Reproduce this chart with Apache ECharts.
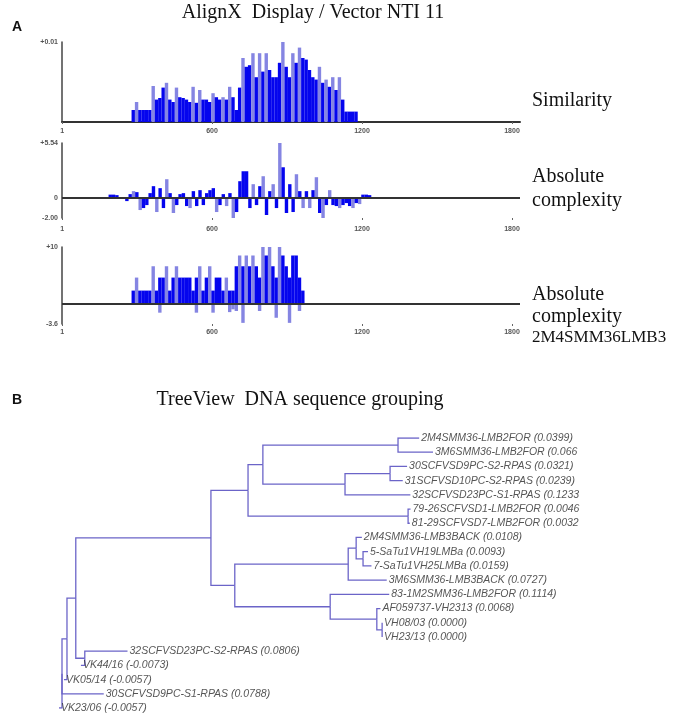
<!DOCTYPE html>
<html><head><meta charset="utf-8">
<script src="https://cdn.jsdelivr.net/npm/echarts@6/dist/echarts.min.js"></script>
<style>html,body{margin:0;padding:0;background:#fff}#c{width:673px;height:720px}</style>
</head><body><div id="c"></div>
<script>
// ---------- Panel A data ----------
const positionTicks = [1, 600, 1200, 1800];
const positionTickLabels = ['1', '600', '1200', '1800'];
const binStep = 13.3;

const similarityStart = 285;
const similarityValues = [0.0015, 0.0025, 0.0015, 0.0015, 0.0015, 0.0015, 0.0045, 0.0028, 0.003, 0.0043, 0.0049, 0.0028, 0.0025, 0.0043, 0.0031, 0.003, 0.0028, 0.0025, 0.0044, 0.0024, 0.004, 0.0028, 0.0028, 0.0025, 0.0036, 0.0031, 0.0028, 0.0031, 0.0028, 0.0044, 0.0031, 0.0015, 0.0043, 0.008, 0.0069, 0.0071, 0.0086, 0.0056, 0.0086, 0.0063, 0.0086, 0.0065, 0.0056, 0.0056, 0.0074, 0.01, 0.0069, 0.0056, 0.0086, 0.0074, 0.0093, 0.008, 0.0078, 0.0065, 0.0056, 0.0053, 0.0069, 0.0049, 0.0053, 0.0044, 0.0056, 0.004, 0.0056, 0.0028, 0.0013, 0.0013, 0.0013, 0.0013];
const similarityYTicks = [0.01];
const similarityYLabels = ['+0.01'];

const complexityStart = 193;
const complexityValues = [0.35, 0.35, 0.3, 0, 0, -0.3, 0.4, 0.7, 0.6, -1.2, -1.0, -0.7, 0.5, 1.2, -1.4, 1.0, -1.0, 1.9, 0.5, -1.5, -0.7, 0.4, 0.5, -0.8, -1.0, 0.7, -0.8, 0.8, -0.7, 0.5, 0.8, 1.0, -1.4, -0.7, 0.4, -0.8, 0.5, -2.0, -1.4, 1.7, 2.7, 2.7, -1.0, 1.4, -0.7, 1.2, 2.2, -1.7, 0.7, 1.4, -1.0, 5.54, 3.1, -1.5, 1.4, -1.4, 2.4, 0.7, -1.0, 0.7, -1.0, 0.8, 2.1, -1.5, -2.0, -0.7, 0.8, -0.7, -0.8, -1.0, -0.7, -0.5, -0.8, -1.0, -0.5, -0.6, 0.35, 0.35, 0.3];
const complexityYTicks = [5.54, 0, -2];
const complexityYLabels = ['+5.54', '0', '-2.00'];

const seqComplexityStart = 285;
const seqComplexityUp = [2.3, 4.6, 2.3, 2.3, 2.3, 2.3, 6.6, 2.3, 4.6, 4.6, 6.6, 2.3, 4.6, 6.6, 4.6, 4.6, 4.6, 4.6, 2.3, 4.6, 6.6, 2.3, 4.6, 6.6, 2.3, 4.6, 4.6, 2.3, 4.6, 2.3, 2.3, 6.6, 8.5, 6.6, 8.5, 6.6, 8.5, 6.6, 4.6, 10, 8.5, 10, 6.6, 4.6, 10, 8.5, 6.6, 4.6, 8.5, 8.5, 4.6, 2.3];
const seqComplexityDown = [0, 0, 0, 0, 0, 0, 0, 0, -1.6, 0, 0, 0, 0, 0, 0, 0, 0, 0, 0, -1.6, 0, 0, 0, 0, -1.6, 0, 0, 0, 0, -1.5, -1.0, -1.3, 0, -3.4, 0, 0, 0, 0, -1.3, 0, 0, 0, 0, -2.5, 0, 0, 0, -3.4, 0, 0, -1.3, 0];
const seqYTicks = [10, -3.6];
const seqYLabels = ['+10', '-3.6'];

// ---------- Panel B data (TreeView) ----------
const leafNames = ['2M4SMM36-LMB2FOR (0.0399)', '3M6SMM36-LMB2FOR (0.066', '30SCFVSD9PC-S2-RPAS (0.0321)', '31SCFVSD10PC-S2-RPAS (0.0239)', '32SCFVSD23PC-S1-RPAS (0.1233', '79-26SCFVSD1-LMB2FOR (0.0046', '81-29SCFVSD7-LMB2FOR (0.0032', '2M4SMM36-LMB3BACK (0.0108)', '5-SaTu1VH19LMBa (0.0093)', '7-SaTu1VH25LMBa (0.0159)', '3M6SMM36-LMB3BACK (0.0727)', '83-1M2SMM36-LMB2FOR (0.1114)', 'AF059737-VH2313 (0.0068)', 'VH08/03 (0.0000)', 'VH23/13 (0.0000)', '32SCFVSD23PC-S2-RPAS (0.0806)', 'VK44/16 (-0.0073)', 'VK05/14 (-0.0057)', '30SCFVSD9PC-S1-RPAS (0.0788)', 'VK23/06 (-0.0057)'];
const leafParent = [7, 7, 9, 9, 8, 10, 10, 13, 14, 14, 12, 15, 16, 17, 17, 3, 3, 1, 0, 0];
const leafLength = [0.0399, 0.066, 0.0321, 0.0239, 0.1233, 0.0046, 0.0032, 0.0108, 0.0093, 0.0159, 0.0727, 0.1114, 0.0068, 0.0, 0.0, 0.0806, -0.0073, -0.0057, 0.0788, -0.0057];
const nodeParent = [-1, 0, 1, 2, 2, 4, 5, 6, 6, 8, 5, 4, 11, 12, 13, 11, 15, 16];
const nodeLength = [0, 0.0094, 0.0166, 0.017, 0.255, 0.070, 0.028, 0.255, 0.155, 0.085, 0.302, 0.045, 0.214, 0.015, 0.013, 0.180, 0.088, 0.010];

// ---------- helpers ----------
function binPoints(start, values) {
  return values.map((v, i) => [start + i * binStep, v]);
}
function spikeColor(values, i) {
  const v = Math.abs(values[i]);
  const a = Math.abs(values[i - 1] || 0), b = Math.abs(values[i + 1] || 0);
  return (v > a && v > b && v > 0) ? '#8585e2' : '#0505ee';
}
function barData(start, values) {
  return binPoints(start, values).map((p, i) => ({ value: p, itemStyle: { color: spikeColor(values, i) } }));
}
function labelFor(ticks, labels) {
  return v => { const i = ticks.findIndex(t => Math.abs(t - v) < 1e-9); return i >= 0 ? labels[i] : ''; };
}

// tree layout from branch lengths
const nodeX = [];
nodeParent.forEach((p, k) => { nodeX[k] = (p < 0 ? 0 : nodeX[p]) + nodeLength[k]; });
const leafX = leafParent.map((p, j) => nodeX[p] + leafLength[j]);
const nodeY = [];
for (let k = nodeParent.length - 1; k >= 0; k--) {
  const ys = [];
  leafParent.forEach((p, j) => { if (p === k) ys.push(j); });
  nodeParent.forEach((p, c) => { if (p === k) ys.push(nodeY[c]); });
  nodeY[k] = (Math.min(...ys) + Math.max(...ys)) / 2;
}
const treeEdges = [];
leafParent.forEach((p, j) => treeEdges.push({ coords: [[nodeX[p], nodeY[p]], [nodeX[p], j], [leafX[j], j]] }));
nodeParent.forEach((p, k) => { if (p >= 0) treeEdges.push({ coords: [[nodeX[p], nodeY[p]], [nodeX[p], nodeY[k]], [nodeX[k], nodeY[k]]] }); });
const treeLabels = leafNames.map((n, j) => [leafX[j], j, n]);

// ---------- axes ----------
const tickFont = { fontSize: 7, fontWeight: 'bold', color: '#555', fontFamily: 'Liberation Sans' };
function posAxis(grid, showLine, margin) {
  return {
    type: 'value', gridIndex: grid, min: 0, max: 1832,
    axisLine: { show: showLine, onZero: false, lineStyle: { color: '#333', width: 2 } },
    axisTick: { show: true, length: 2, customValues: positionTicks, lineStyle: { color: '#666' } },
    axisLabel: Object.assign({ customValues: positionTicks, margin: margin, formatter: labelFor(positionTicks, positionTickLabels) }, tickFont),
    splitLine: { show: false }
  };
}
function valAxis(grid, min, max, ticks, labels) {
  return {
    type: 'value', gridIndex: grid, min: min, max: max,
    axisLine: { show: true, lineStyle: { color: '#444', width: 1.5 } },
    axisTick: { show: false },
    axisLabel: Object.assign({ customValues: ticks, margin: 4, formatter: labelFor(ticks, labels) }, tickFont),
    splitLine: { show: false }
  };
}
const zeroLine = { silent: true, symbol: 'none', label: { show: false }, lineStyle: { color: '#333', width: 2, type: 'solid' }, data: [{ yAxis: 0 }] };

function txt(x, y, text, font, align) {
  return { type: 'text', x: x, y: y, silent: true, style: { text: text, font: font, fill: '#111', textAlign: align || 'left', textVerticalAlign: 'middle' } };
}

const chart = echarts.init(document.getElementById('c'), null, { renderer: 'canvas' });
chart.setOption({
  animation: false,
  backgroundColor: '#fff',
  grid: [
    { left: 62, top: 42, width: 458, height: 80 },
    { left: 62, top: 143, width: 458, height: 75 },
    { left: 62, top: 247, width: 458, height: 77 },
    { left: 51.4, top: 438, width: 487.6, height: 270 }
  ],
  xAxis: [
    posAxis(0, true, 6),
    posAxis(1, false, 8),
    posAxis(2, false, 5),
    { type: 'value', gridIndex: 3, min: -0.02, max: 0.9, show: false }
  ],
  yAxis: [
    valAxis(0, 0, 0.01, similarityYTicks, similarityYLabels),
    valAxis(1, -2, 5.54, complexityYTicks, complexityYLabels),
    valAxis(2, -3.6, 10, seqYTicks, seqYLabels),
    { type: 'value', gridIndex: 3, min: 0, max: 19, inverse: true, show: false }
  ],
  series: [
    { type: 'bar', xAxisIndex: 0, yAxisIndex: 0, barWidth: 3.4, data: barData(similarityStart, similarityValues) },
    { type: 'bar', xAxisIndex: 1, yAxisIndex: 1, barWidth: 3.4, data: barData(complexityStart, complexityValues), markLine: zeroLine },
    { type: 'bar', xAxisIndex: 2, yAxisIndex: 2, barWidth: 3.4,
      data: barData(seqComplexityStart, seqComplexityUp).concat(
        binPoints(seqComplexityStart, seqComplexityDown).filter(p => p[1] !== 0).map(p => ({ value: p, itemStyle: { color: '#8585e2' } }))),
      markLine: zeroLine },
    { type: 'lines', coordinateSystem: 'cartesian2d', xAxisIndex: 3, yAxisIndex: 3, polyline: true, silent: true,
      lineStyle: { color: '#6b64c8', width: 1.3, opacity: 1 }, data: treeEdges },
    { type: 'scatter', xAxisIndex: 3, yAxisIndex: 3, symbolSize: 0, silent: true, data: treeLabels,
      label: { show: true, position: 'right', distance: 2, formatter: p => p.data[2],
        fontStyle: 'italic', fontSize: 10.5, color: '#2a2a2a', fontFamily: 'Liberation Sans' } }
  ],
  graphic: [
    txt(313, 13, 'AlignX  Display / Vector NTI 11', '20px "Liberation Serif"', 'center'),
    txt(12, 27, 'A', 'bold 14px "Liberation Sans"'),
    txt(532, 101, 'Similarity', '20px "Liberation Serif"'),
    txt(532, 177, 'Absolute', '20px "Liberation Serif"'),
    txt(532, 201, 'complexity', '20px "Liberation Serif"'),
    txt(532, 295, 'Absolute', '20px "Liberation Serif"'),
    txt(532, 317, 'complexity', '20px "Liberation Serif"'),
    txt(532, 338, '2M4SMM36LMB3', '17px "Liberation Serif"'),
    txt(12, 400, 'B', 'bold 14px "Liberation Sans"'),
    txt(300, 400, 'TreeView  DNA sequence grouping', '20px "Liberation Serif"', 'center')
  ]
});
</script>
</body></html>
